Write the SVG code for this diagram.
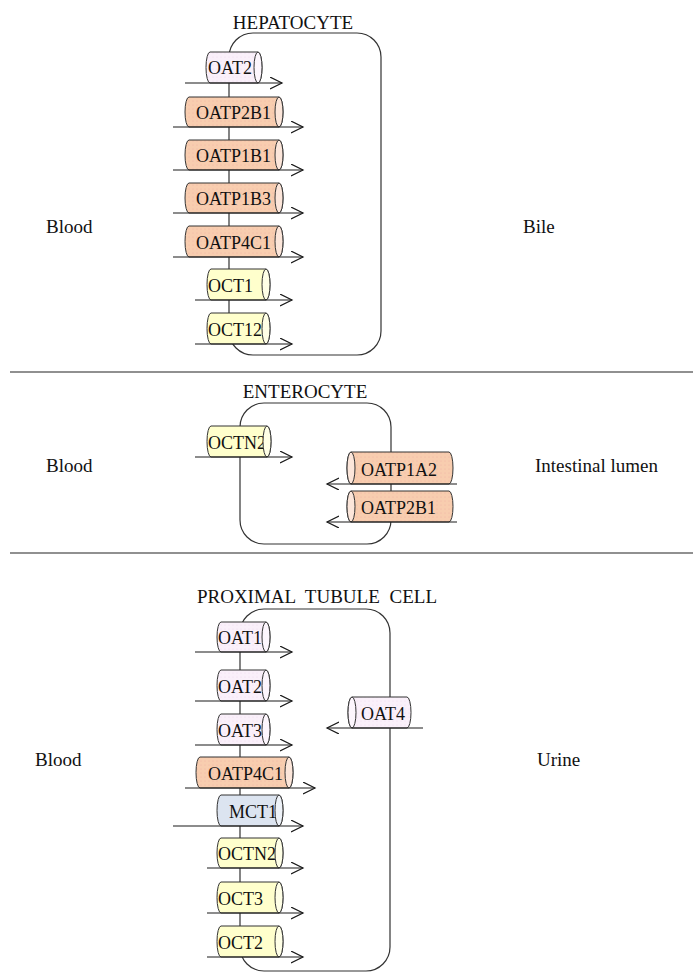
<svg xmlns="http://www.w3.org/2000/svg" width="693" height="973" viewBox="0 0 693 973">
  <style>
    .lbl { font-family: "Liberation Serif", "Times New Roman", serif; font-size: 19px; fill: #111; }
    .tx { font-family: "Liberation Serif", "Times New Roman", serif; font-size: 18px; fill: #111; }
    .cell { fill: none; stroke: #333; stroke-width: 1.2; }
    .sep { stroke: #222; stroke-width: 1.2; }
    .body { stroke: #333; stroke-width: 1; }
    .org { fill: url(#dotOrg); }
    .pnk { fill: url(#dotPnk); }
    .yel { fill: #FFFFCC; }
    .blu { fill: #DCE4F0; }
    .faceOrg { fill: #FCE6DA; stroke: #333; stroke-width: 1; }
    .facePnk { fill: #FDF6FD; stroke: #333; stroke-width: 1; }
    .faceYel { fill: #FFFFE6; stroke: #333; stroke-width: 1; }
    .faceBlu { fill: #EEF2F8; stroke: #333; stroke-width: 1; }
    .flow { stroke: #1a1a1a; stroke-width: 1.2; fill: none; marker-end: url(#arr); }
  </style>
  <defs>
    <pattern id="dotOrg" width="4" height="4" patternUnits="userSpaceOnUse">
      <rect width="4" height="4" fill="#F8CDAF"/>
      <circle cx="1" cy="1" r="0.6" fill="#F2B5A6"/>
    </pattern>
    <pattern id="dotPnk" width="4" height="4" patternUnits="userSpaceOnUse">
      <rect width="4" height="4" fill="#FAF0FA"/>
      <circle cx="1" cy="1" r="0.6" fill="#F0DCF0"/>
    </pattern>
    <marker id="arr" markerWidth="14" markerHeight="14" refX="12" refY="6" orient="auto" markerUnits="userSpaceOnUse">
      <path d="M0,0 L12,6 L0,12" fill="none" stroke="#1a1a1a" stroke-width="1.2"/>
    </marker>
  </defs>

  <rect width="693" height="973" fill="#ffffff"/>

  <!-- section dividers -->
  <line class="sep" x1="10" y1="372" x2="693" y2="372"/>
  <line class="sep" x1="10" y1="553" x2="693" y2="553"/>

  <!-- cell outlines -->
  <g id="hepatocyte">
    <rect class="cell" x="229" y="33" width="152" height="322" rx="24"/>
    <text class="lbl" x="293" y="29" text-anchor="middle">HEPATOCYTE</text>
    <text class="lbl" x="46" y="233">Blood</text>
    <text class="lbl" x="523" y="233">Bile</text>
  </g>
  <g id="enterocyte">
    <rect class="cell" x="240" y="403" width="151" height="141" rx="24"/>
    <text class="lbl" x="305" y="398" text-anchor="middle">ENTEROCYTE</text>
    <text class="lbl" x="46" y="472">Blood</text>
    <text class="lbl" x="535" y="472">Intestinal lumen</text>
  </g>
  <g id="proximal-tubule-cell">
    <rect class="cell" x="240" y="609" width="150" height="362" rx="24"/>
    <text class="lbl" x="317" y="603" text-anchor="middle" word-spacing="5">PROXIMAL TUBULE CELL</text>
    <text class="lbl" x="35" y="766">Blood</text>
    <text class="lbl" x="537" y="766">Urine</text>
  </g>

  <!-- hepatocyte transporters (face on the right) -->
  <g id="hep-oat2">
    <path class="body pnk" d="M210,52 H258 A4,15.5 0 0 1 258,83 H210 A4,15.5 0 0 1 210,52 Z"/>
    <text class="tx" x="208" y="74">OAT2</text>
    <ellipse class="facePnk" cx="258" cy="67.5" rx="4" ry="15.5"/>
  </g>
  <g id="hep-oatp2b1">
    <path class="body org" d="M189,97 H279 A4,15 0 0 1 279,127 H189 A4,15 0 0 1 189,97 Z"/>
    <ellipse class="faceOrg" cx="279" cy="112" rx="4" ry="15"/>
    <text class="tx" x="196" y="119">OATP2B1</text>
  </g>
  <g id="hep-oatp1b1">
    <path class="body org" d="M189,140 H279 A4,15 0 0 1 279,170 H189 A4,15 0 0 1 189,140 Z"/>
    <ellipse class="faceOrg" cx="279" cy="155" rx="4" ry="15"/>
    <text class="tx" x="196" y="162">OATP1B1</text>
  </g>
  <g id="hep-oatp1b3">
    <path class="body org" d="M189,183 H279 A4,15 0 0 1 279,213 H189 A4,15 0 0 1 189,183 Z"/>
    <ellipse class="faceOrg" cx="279" cy="198" rx="4" ry="15"/>
    <text class="tx" x="196" y="205">OATP1B3</text>
  </g>
  <g id="hep-oatp4c1">
    <path class="body org" d="M189,226 H279 A4,15.5 0 0 1 279,257 H189 A4,15.5 0 0 1 189,226 Z"/>
    <ellipse class="faceOrg" cx="279" cy="241.5" rx="4" ry="15.5"/>
    <text class="tx" x="196" y="249">OATP4C1</text>
  </g>
  <g id="hep-oct1">
    <path class="body yel" d="M211,269 H266 A4,15.5 0 0 1 266,300 H211 A4,15.5 0 0 1 211,269 Z"/>
    <ellipse class="faceYel" cx="266" cy="284.5" rx="4" ry="15.5"/>
    <text class="tx" x="208" y="292">OCT1</text>
  </g>
  <g id="hep-oct12">
    <path class="body yel" d="M211,313 H266 A4,15.5 0 0 1 266,344 H211 A4,15.5 0 0 1 211,313 Z"/>
    <text class="tx" x="208" y="336">OCT12</text>
    <ellipse class="faceYel" cx="266" cy="328.5" rx="4" ry="15.5"/>
  </g>

  <!-- enterocyte transporters -->
  <g id="ent-octn2">
    <path class="body yel" d="M211,426 H267 A4,15.5 0 0 1 267,457 H211 A4,15.5 0 0 1 211,426 Z"/>
    <text class="tx" x="208" y="449">OCTN2</text>
    <ellipse class="faceYel" cx="267" cy="441.5" rx="4" ry="15.5"/>
  </g>
  <g id="ent-oatp1a2">
    <path class="body org" d="M351,452 H449 A4,16 0 0 1 449,484 H351 A4,16 0 0 1 351,452 Z"/>
    <ellipse class="faceOrg" cx="351" cy="468" rx="4" ry="16"/>
    <text class="tx" x="361" y="476">OATP1A2</text>
  </g>
  <g id="ent-oatp2b1">
    <path class="body org" d="M351,491 H449 A4,15.5 0 0 1 449,522 H351 A4,15.5 0 0 1 351,491 Z"/>
    <ellipse class="faceOrg" cx="351" cy="506.5" rx="4" ry="15.5"/>
    <text class="tx" x="361" y="514">OATP2B1</text>
  </g>

  <!-- proximal tubule transporters -->
  <g id="pt-oat1">
    <path class="body pnk" d="M221,622 H266 A4,15 0 0 1 266,652 H221 A4,15 0 0 1 221,622 Z"/>
    <text class="tx" x="218" y="644">OAT1</text>
    <ellipse class="facePnk" cx="266" cy="637" rx="4" ry="15"/>
  </g>
  <g id="pt-oat2">
    <path class="body pnk" d="M221,670 H266 A4,15.5 0 0 1 266,701 H221 A4,15.5 0 0 1 221,670 Z"/>
    <text class="tx" x="218" y="693">OAT2</text>
    <ellipse class="facePnk" cx="266" cy="685.5" rx="4" ry="15.5"/>
  </g>
  <g id="pt-oat3">
    <path class="body pnk" d="M221,714 H266 A4,15.5 0 0 1 266,745 H221 A4,15.5 0 0 1 221,714 Z"/>
    <text class="tx" x="218" y="737">OAT3</text>
    <ellipse class="facePnk" cx="266" cy="729.5" rx="4" ry="15.5"/>
  </g>
  <g id="pt-oatp4c1">
    <path class="body org" d="M200,757 H289 A4,15.5 0 0 1 289,788 H200 A4,15.5 0 0 1 200,757 Z"/>
    <text class="tx" x="208" y="780">OATP4C1</text>
    <ellipse class="faceOrg" cx="289" cy="772.5" rx="4" ry="15.5"/>
  </g>
  <g id="pt-mct1">
    <path class="body blu" d="M221,795 H279 A4,15.5 0 0 1 279,826 H221 A4,15.5 0 0 1 221,795 Z"/>
    <text class="tx" x="229" y="818">MCT1</text>
    <ellipse class="faceBlu" cx="279" cy="810.5" rx="4" ry="15.5"/>
  </g>
  <g id="pt-octn2">
    <path class="body yel" d="M221,838 H279 A4,15 0 0 1 279,868 H221 A4,15 0 0 1 221,838 Z"/>
    <text class="tx" x="218" y="860">OCTN2</text>
    <ellipse class="faceYel" cx="279" cy="853" rx="4" ry="15"/>
  </g>
  <g id="pt-oct3">
    <path class="body yel" d="M221,882 H279 A4,15.5 0 0 1 279,913 H221 A4,15.5 0 0 1 221,882 Z"/>
    <text class="tx" x="218" y="905">OCT3</text>
    <ellipse class="faceYel" cx="279" cy="897.5" rx="4" ry="15.5"/>
  </g>
  <g id="pt-oct2">
    <path class="body yel" d="M221,926 H279 A4,15.5 0 0 1 279,957 H221 A4,15.5 0 0 1 221,926 Z"/>
    <text class="tx" x="218" y="949">OCT2</text>
    <ellipse class="faceYel" cx="279" cy="941.5" rx="4" ry="15.5"/>
  </g>
  <g id="pt-oat4">
    <path class="body pnk" d="M352,697 H407 A4,15.5 0 0 1 407,728 H352 A4,15.5 0 0 1 352,697 Z"/>
    <ellipse class="facePnk" cx="352" cy="712.5" rx="4" ry="15.5"/>
    <text class="tx" x="361" y="720">OAT4</text>
  </g>

  <!-- transport direction arrows -->
  <g id="connectors">
    <line class="flow" x1="185" y1="83" x2="282" y2="83"/>
    <line class="flow" x1="173" y1="127" x2="303" y2="127"/>
    <line class="flow" x1="173" y1="170" x2="303" y2="170"/>
    <line class="flow" x1="173" y1="213" x2="303" y2="213"/>
    <line class="flow" x1="173" y1="257" x2="303" y2="257"/>
    <line class="flow" x1="195" y1="300" x2="292" y2="300"/>
    <line class="flow" x1="195" y1="344" x2="292" y2="344"/>

    <line class="flow" x1="195" y1="457" x2="292" y2="457"/>
    <line class="flow" x1="457" y1="484" x2="327" y2="484"/>
    <line class="flow" x1="457" y1="522" x2="327" y2="522"/>

    <line class="flow" x1="195" y1="652" x2="292" y2="652"/>
    <line class="flow" x1="195" y1="701" x2="292" y2="701"/>
    <line class="flow" x1="195" y1="745" x2="292" y2="745"/>
    <line class="flow" x1="185" y1="788" x2="315" y2="788"/>
    <line class="flow" x1="173" y1="826" x2="303" y2="826"/>
    <line class="flow" x1="207" y1="868" x2="303" y2="868"/>
    <line class="flow" x1="207" y1="913" x2="303" y2="913"/>
    <line class="flow" x1="207" y1="957" x2="303" y2="957"/>
    <line class="flow" x1="423" y1="728" x2="327" y2="728"/>
  </g>
</svg>
